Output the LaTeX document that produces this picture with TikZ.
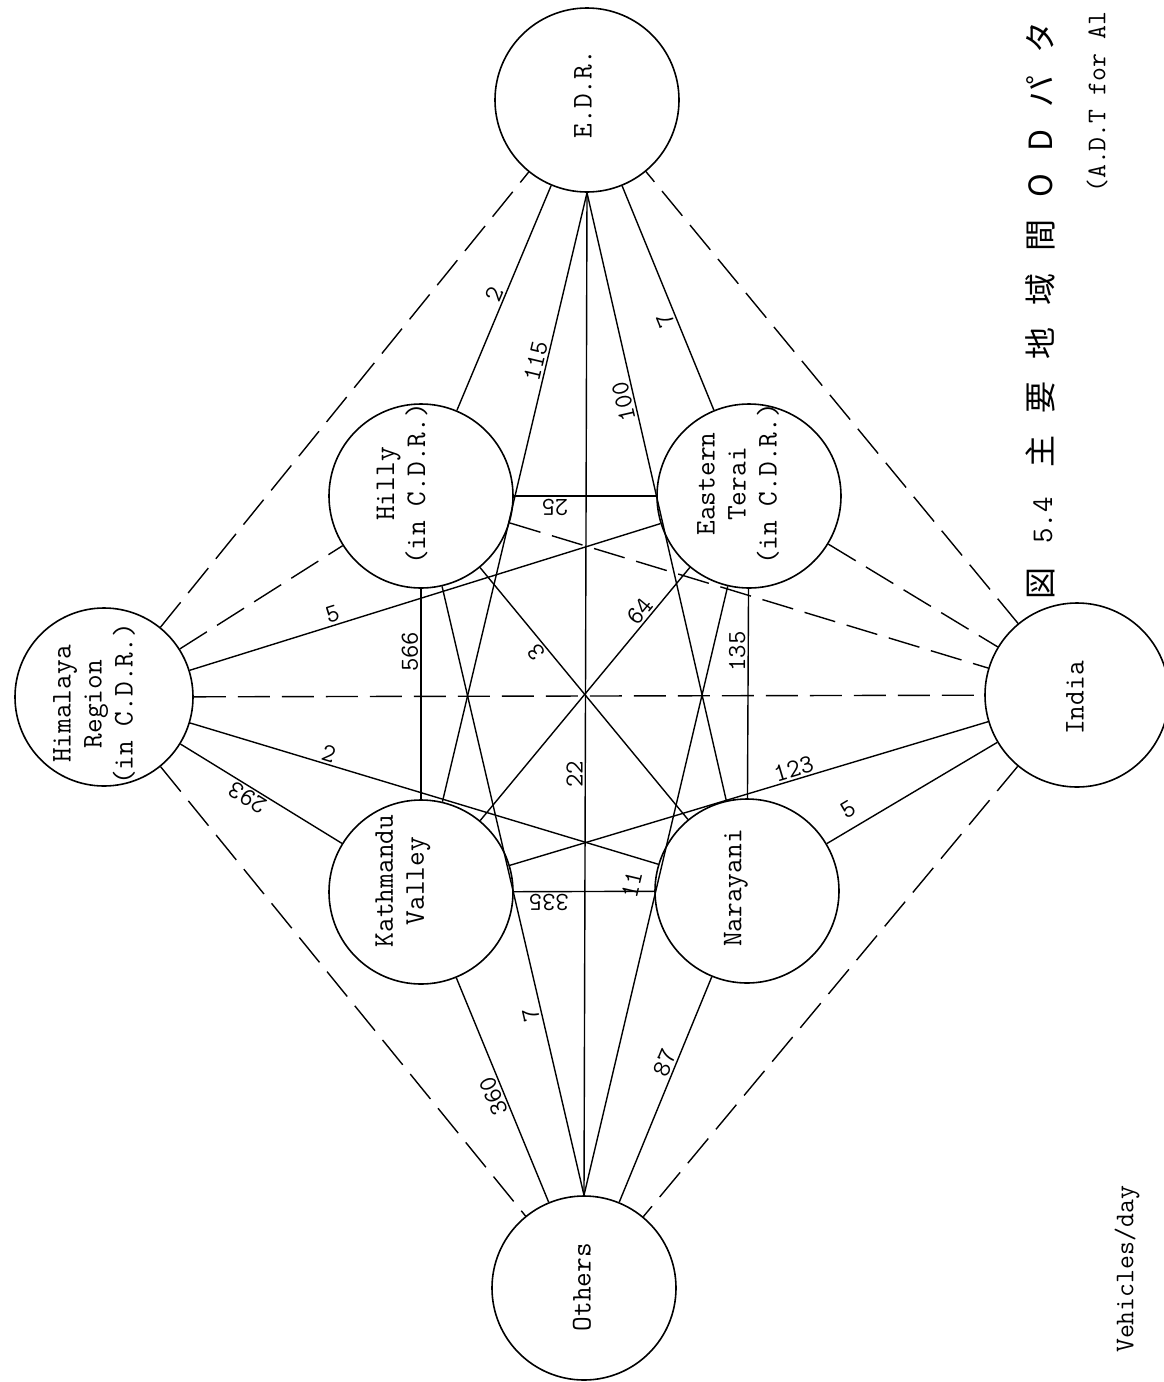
\documentclass[tikz,border=0pt]{standalone}
\usepackage{fontspec}
\newfontfamily\jpfont{Noto Sans CJK JP}
\newcommand\twfont[1]{\ttfamily\fontsize{#1}{31}\selectfont\addfontfeatures{FakeBold=1.5}}
\newcommand\jsp{\hspace{22pt}}
\begin{document}
\begin{tikzpicture}[x=1pt,y=-1pt,
  city/.style={circle, draw, line width=1.6pt, minimum size=184pt, inner sep=0pt},
  cityname/.style={rotate=90, align=center, font=\twfont{28.5}, inner sep=0pt},
  link/.style={line width=1.4pt},
  dlink/.style={line width=1.4pt, dash pattern=on 32pt off 12pt},
  val/.style={sloped, allow upside down, above, inner sep=2pt, font=\twfont{26}},
  side/.style={rotate=90, anchor=west, inner sep=0pt}]
\useasboundingbox[fill=white] (0,0) rectangle (1164,1382);
% nodes
\node[city, minimum size=178pt] (H) at (104,697) {};
\node[city] (E) at (587,100) {};
\node[city] (O) at (584,1288) {};
\node[city] (I) at (1077,695) {};
\node[city] (Hi) at (421,496) {};
\node[city] (ET) at (749,496) {};
\node[city] (K) at (421,892) {};
\node[city] (N) at (747,891) {};
\node[cityname] (Ht) at (94,704) {Himalaya\\Region\\(in C.D.R.)};
\node[cityname] (Et) at (583,94) {E.D.R.};
\node[cityname] (Ot) at (582,1287) {Others};
\node[cityname] (It) at (1075,698) {India};
\node[cityname] (Hit) at (402,484) {Hilly\\(in C.D.R.)};
\node[cityname] (ETt) at (738,484) {Eastern\\Terai\\(in C.D.R.)};
\node[cityname] (Kt) at (403,881) {Kathmandu\\Valley};
\node[cityname] (Nt) at (736,888) {Narayani};
% dashed links
\draw[dlink] (H) -- (E);
\draw[dlink] (H) -- (O);
\draw[dlink] (I) -- (E);
\draw[dlink] (I) -- (O);
\draw[dlink] (H) -- (I);
\draw[dlink] (H) -- (Hi);
\draw[dlink] (Hi) -- (I);
\draw[dlink] (ET) -- (I);
% solid links
\draw[link] (H) -- node[val,pos=0.31] {5} (ET);
\draw[link] (K) -- node[val,pos=0.55] {293} (H);
\draw[link] (H) -- node[val,pos=0.29] {2} (N);
\draw[link] (Hi) -- node[val,pos=0.5] {2} (E);
\draw[link] (K) -- node[val,pos=0.72] {115} (E.south);
\draw[link] (N) -- node[val,pos=0.66] {100} (E.south);
\draw[link] (ET) -- node[val,pos=0.42] {7} (E);
\draw[link] (O.north) -- node[val,pos=0.42] {22} (E.south);
\draw[link] (O.north) -- node[val,pos=0.3] {7} (Hi);
\draw[link] (O.north) -- node[val,pos=0.5,above=14pt] {11} (ET);
\draw[link] (O) -- node[val,pos=0.49] {360} (K);
\draw[link] (O) -- node[val,pos=0.6] {87} (N);
\draw[link] (K) -- node[val,pos=0.7] {566} (Hi);
\draw[link] (N) -- node[val,pos=0.7] {135} (ET);
\draw[link] (ET) -- node[val,pos=0.71] {25} (Hi);
\draw[link] (N) -- node[val,pos=0.75] {335} (K);
\draw[link] (N) -- node[val,pos=0.69] {3} (Hi);
\draw[link] (K) -- node[val,pos=0.8] {64} (ET);
\draw[link] (K) -- node[val,pos=0.6] {123} (I);
\draw[link] (N) -- node[val,pos=0.18,above=8pt] {5} (I);
% side texts
\node[side, font=\jpfont\fontsize{32}{32}\selectfont] (T) at (1040,600)
  {図\hspace{24pt}{\twfont{30}5.4}\hspace{30pt}主\jsp 要\jsp 地\jsp 域\jsp 間\jsp O\jsp D\jsp パ\jsp タ};
\node[side, font=\twfont{27}] (S) at (1097,193) {(A.D.T for Al};
\node[side, font=\twfont{27}] (U) at (1127,1353) {Vehicles/day};
\end{tikzpicture}
\end{document}
